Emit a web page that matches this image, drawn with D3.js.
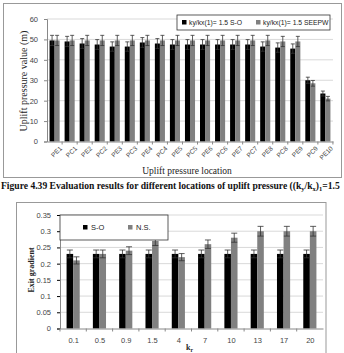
<!DOCTYPE html>
<html>
<head>
<meta charset="utf-8">
<script src="https://cdn.jsdelivr.net/npm/d3@7/dist/d3.min.js"></script>
<style>
  body { margin: 0; background: #fff; }
  svg { display: block; }
  .tick text { font-family: "Liberation Sans", sans-serif; fill: #444; }
</style>
</head>
<body>
<svg id="chart" width="344" height="353"></svg>
<script>
// top chart data
var locations = ["PE1","PC1","PE2","PC2","PE3","PC3","PE4","PC4","PE5","PC5","PE6","PC6","PE7","PC7","PE8","PC8","PE9","PC9","PE10"];
var soValues = [49.5,49,48,47.5,46.5,46.5,48.5,48,47.5,47.5,47.5,47.5,47.5,47.5,46.5,46,45.5,30,23.5];
var seepwValues = [49.5,49.5,49.5,49.5,49.5,49.5,49.5,49.5,49.5,49.5,49.5,49.5,49.5,49.5,49.5,49,49,28.5,21];
var soErr = [2.5,2.5,2.4,2.4,2.3,2.3,2.4,2.4,2.4,2.4,2.4,2.4,2.4,2.4,2.3,2.3,2.3,1.5,1.2];
var seepwErr = [2.5,2.5,2.5,2.5,2.5,2.5,2.5,2.5,2.5,2.5,2.5,2.5,2.5,2.5,2.5,2.5,2.5,1.4,1.1];
var topTicks = [0,10,20,30,40,50,60];
var topLegend = ["ky/kx(1)= 1.5  S-O", "ky/kx(1)= 1.5 SEEPW"];

// bottom chart data
var krValues = ["0.1","0.5","0.9","1.5","4","7","10","13","17","20"];
var gradSO = [0.23,0.23,0.23,0.23,0.23,0.23,0.23,0.23,0.23,0.23];
var gradNS = [0.21,0.23,0.24,0.27,0.22,0.26,0.28,0.30,0.30,0.30];
var gradSOErr = [0.012,0.012,0.012,0.012,0.012,0.012,0.012,0.012,0.012,0.012];
var gradNSErr = [0.011,0.012,0.012,0.014,0.011,0.013,0.014,0.015,0.015,0.015];
var bottomTicks = [0,0.05,0.1,0.15,0.2,0.25,0.3,0.35];
var bottomLegend = ["S-O", "N.S."];

var colors = ["#000000", "#808080"];
var svg = d3.select("#chart");

function drawBars(g, cats, series, errs, x, y, capW) {
  var inner = d3.scaleBand().domain([0, 1]).range([0, x.bandwidth()]);
  var rows = cats.map((c, i) => ({cat: c, vals: series.map(s => s[i]), errs: errs.map(e => e[i])}));
  var grp = g.append("g").selectAll("g")
    .data(rows)
    .join("g")
    .attr("transform", d => `translate(${x(d.cat)},0)`);
  grp.selectAll("rect")
    .data(d => d.vals.map((v, k) => ({v: v, k: k})))
    .join("rect")
    .attr("x", d => inner(d.k))
    .attr("y", d => y(d.v))
    .attr("width", inner.bandwidth())
    .attr("height", d => y(0) - y(d.v))
    .attr("fill", d => colors[d.k]);
  // error bars
  var eb = grp.selectAll("g.err")
    .data(d => d.vals.map((v, k) => ({v: v, e: d.errs[k], k: k})))
    .join("g")
    .attr("class", "err")
    .attr("stroke", "#333")
    .attr("stroke-width", 0.8);
  eb.append("line")
    .attr("x1", d => inner(d.k) + inner.bandwidth() / 2)
    .attr("x2", d => inner(d.k) + inner.bandwidth() / 2)
    .attr("y1", d => y(d.v - d.e))
    .attr("y2", d => y(d.v + d.e));
  eb.append("line")
    .attr("x1", d => inner(d.k) + inner.bandwidth() / 2 - capW / 2)
    .attr("x2", d => inner(d.k) + inner.bandwidth() / 2 + capW / 2)
    .attr("y1", d => y(d.v + d.e))
    .attr("y2", d => y(d.v + d.e));
  eb.append("line")
    .attr("x1", d => inner(d.k) + inner.bandwidth() / 2 - capW / 2)
    .attr("x2", d => inner(d.k) + inner.bandwidth() / 2 + capW / 2)
    .attr("y1", d => y(d.v - d.e))
    .attr("y2", d => y(d.v - d.e));
}

function drawGrid(g, ticks, y, x0, x1) {
  g.append("g").selectAll("line")
    .data(ticks.filter(t => t > 0))
    .join("line")
    .attr("x1", x0).attr("x2", x1)
    .attr("y1", d => y(d)).attr("y2", d => y(d))
    .attr("stroke", "#d9d9d9")
    .attr("stroke-width", 1);
}

// ---------- top chart ----------
svg.append("rect")
  .attr("x", 3.5).attr("y", 3.5).attr("width", 338).attr("height", 174)
  .attr("fill", "none").attr("stroke", "#999");

var xTop = d3.scaleBand().domain(locations).range([47, 333]).paddingInner(0.33).paddingOuter(0.17);
var yTop = d3.scaleLinear().domain([0, 60]).range([141.5, 19]);

drawGrid(svg, topTicks, yTop, 47, 333);
drawBars(svg, locations, [soValues, seepwValues], [soErr, seepwErr], xTop, yTop, 4);

var yAxisTop = svg.append("g")
  .attr("transform", "translate(47,0)")
  .call(d3.axisLeft(yTop).tickValues(topTicks).tickSize(3).tickPadding(6));
yAxisTop.selectAll(".tick text").attr("font-size", 7.5);

var xAxisTop = svg.append("g")
  .attr("transform", `translate(0,${yTop(0)})`)
  .call(d3.axisBottom(d3.scalePoint().domain(locations).range([47, 333]).padding(0.5)).tickSize(0).tickPadding(4));
xAxisTop.selectAll(".tick text")
  .attr("font-size", 6.5)
  .attr("text-anchor", "end")
  .attr("dy", "0.35em")
  .attr("transform", "translate(3,3) rotate(-45)");
[yAxisTop, xAxisTop].forEach(a => {
  a.select(".domain").attr("stroke", "#888");
  a.selectAll(".tick line").attr("stroke", "#888");
});
// small ticks between categories on x axis
svg.append("g").selectAll("line")
  .data(locations)
  .join("line")
  .attr("x1", d => xTop(d) + xTop.bandwidth() + xTop.step() * 0.165)
  .attr("x2", d => xTop(d) + xTop.bandwidth() + xTop.step() * 0.165)
  .attr("y1", yTop(0)).attr("y2", yTop(0) + 3)
  .attr("stroke", "#888");

svg.append("text")
  .attr("transform", "translate(27,81) rotate(-90)")
  .attr("text-anchor", "middle")
  .attr("font-family", "Liberation Serif, serif")
  .attr("font-size", 10)
  .attr("fill", "#222")
  .text("Uplift pressure value (m)");

svg.append("text")
  .attr("x", 187).attr("y", 174)
  .attr("text-anchor", "middle")
  .attr("font-family", "Liberation Serif, serif")
  .attr("font-size", 9.5)
  .attr("fill", "#222")
  .text("Uplift pressure location");

// top legend
var legTop = svg.append("g").attr("transform", "translate(177,15)");
legTop.append("rect").attr("width", 153).attr("height", 15)
  .attr("fill", "#fff").attr("stroke", "#333").attr("stroke-width", 0.8);
var legTopItems = legTop.selectAll("g.item")
  .data(topLegend)
  .join("g")
  .attr("class", "item")
  .attr("transform", (d, i) => `translate(${i === 0 ? 5 : 79},0)`);
legTopItems.append("rect")
  .attr("y", 5).attr("width", 4.5).attr("height", 4.5)
  .attr("fill", (d, i) => colors[i]);
legTopItems.append("text")
  .attr("x", 7).attr("y", 10)
  .attr("font-family", "Liberation Sans, sans-serif")
  .attr("font-size", 6.8)
  .attr("fill", "#222")
  .text(d => d);

// caption (kept fully inside the window)
var cap = svg.append("text")
  .attr("x", 1).attr("y", 189)
  .attr("font-family", "Liberation Serif, serif")
  .attr("font-weight", "bold")
  .attr("font-size", 9.6)
  .attr("fill", "#111");
cap.append("tspan").text("Figure 4.39 Evaluation results for different locations of uplift pressure ((k");
cap.append("tspan").attr("font-size", 6.5).attr("dy", 2).text("y");
cap.append("tspan").attr("dy", -2).text("/k");
cap.append("tspan").attr("font-size", 6.5).attr("dy", 2).text("x");
cap.append("tspan").attr("dy", -2).text(")");
cap.append("tspan").attr("font-size", 6.5).attr("dy", 2).text("1");
cap.append("tspan").attr("dy", -2).text("=1.5");

// ---------- bottom chart ----------
svg.append("rect")
  .attr("x", 16.5).attr("y", 202.5).attr("width", 309.5).attr("height", 160)
  .attr("fill", "none").attr("stroke", "#999");

var xBot = d3.scaleBand().domain(krValues).range([60, 323]).paddingInner(0.5).paddingOuter(0.25);
var yBot = d3.scaleLinear().domain([0, 0.35]).range([328.5, 215]);

drawGrid(svg, bottomTicks, yBot, 60, 323);
drawBars(svg, krValues, [gradSO, gradNS], [gradSOErr, gradNSErr], xBot, yBot, 6);

var yAxisBot = svg.append("g")
  .attr("transform", "translate(60,0)")
  .call(d3.axisLeft(yBot).tickValues(bottomTicks).tickFormat(d3.format("~g")).tickSize(3).tickPadding(6));
yAxisBot.selectAll(".tick text").attr("font-size", 7.5);

var xAxisBot = svg.append("g")
  .attr("transform", `translate(0,${yBot(0)})`)
  .call(d3.axisBottom(d3.scalePoint().domain(krValues).range([60, 323]).padding(0.5)).tickSize(0).tickPadding(9));
xAxisBot.selectAll(".tick text").attr("font-size", 7.5);
[yAxisBot, xAxisBot].forEach(a => {
  a.select(".domain").attr("stroke", "#888");
});
svg.append("g").selectAll("line")
  .data(krValues)
  .join("line")
  .attr("x1", d => xBot(d) - xBot.step() * 0.25)
  .attr("x2", d => xBot(d) - xBot.step() * 0.25)
  .attr("y1", yBot(0)).attr("y2", yBot(0) + 3)
  .attr("stroke", "#888");

svg.append("text")
  .attr("transform", "translate(34,270) rotate(-90)")
  .attr("text-anchor", "middle")
  .attr("font-family", "Liberation Serif, serif")
  .attr("font-weight", "bold")
  .attr("font-size", 8)
  .attr("fill", "#222")
  .text("Exit gradient");

var kr = svg.append("text")
  .attr("x", 186).attr("y", 350)
  .attr("font-family", "Liberation Serif, serif")
  .attr("font-weight", "bold")
  .attr("font-size", 8)
  .attr("fill", "#222");
kr.append("tspan").text("k");
kr.append("tspan").attr("font-size", 5.5).attr("dy", 1.5).text("r");

// bottom legend
var legBot = svg.append("g").attr("transform", "translate(60,215)");
legBot.append("rect").attr("width", 108).attr("height", 25)
  .attr("fill", "#fff").attr("stroke", "#333").attr("stroke-width", 0.8);
var legBotItems = legBot.selectAll("g.item")
  .data(bottomLegend)
  .join("g")
  .attr("class", "item")
  .attr("transform", (d, i) => `translate(${i === 0 ? 23 : 68},0)`);
legBotItems.append("rect")
  .attr("y", 10).attr("width", 4.5).attr("height", 4.5)
  .attr("fill", (d, i) => colors[i]);
legBotItems.append("text")
  .attr("x", 8).attr("y", 15)
  .attr("font-family", "Liberation Sans, sans-serif")
  .attr("font-size", 7.5)
  .attr("fill", "#222")
  .text(d => d);
</script>
</body>
</html>
